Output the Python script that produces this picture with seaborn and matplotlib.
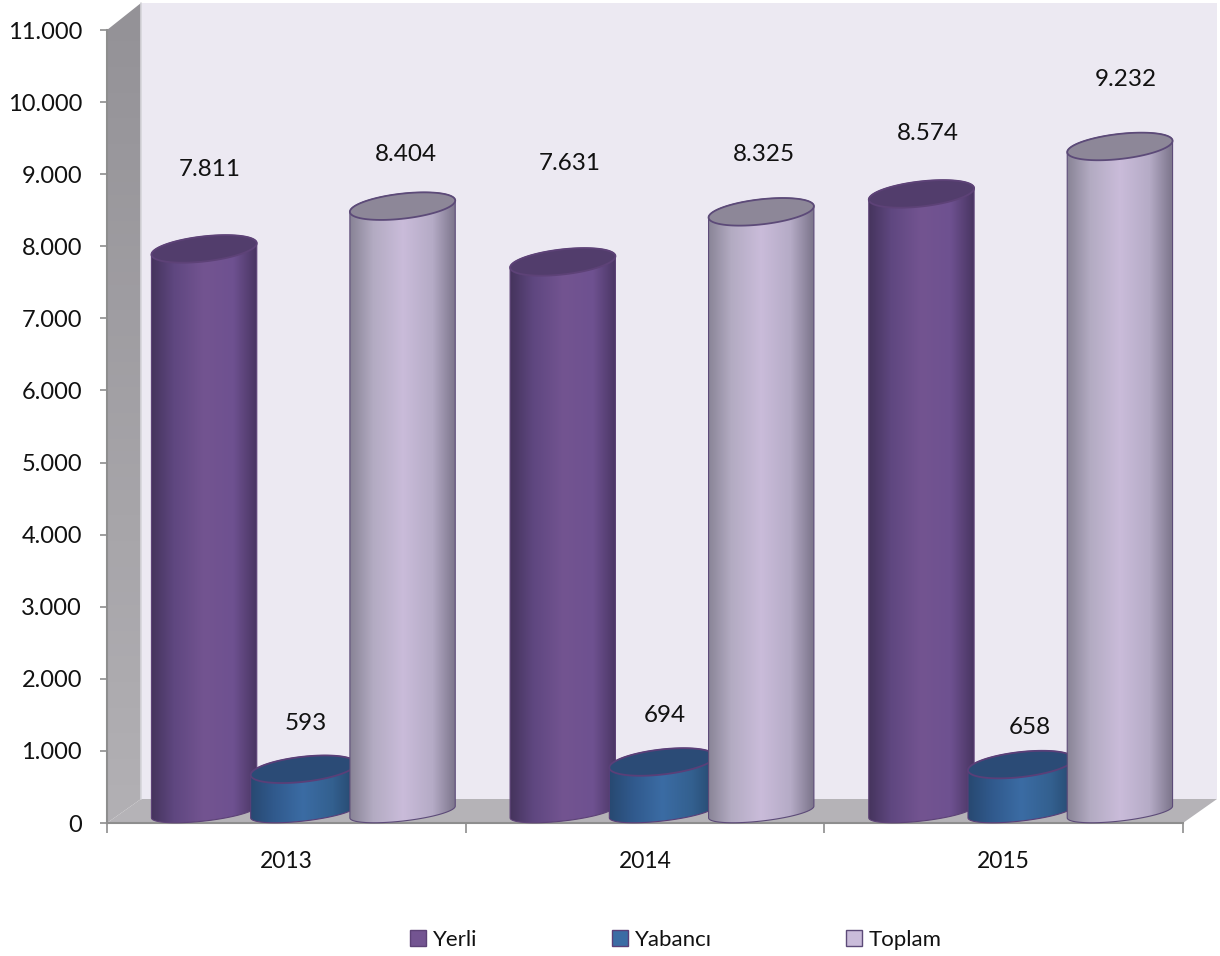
#!/usr/bin/env python
"""
Yerli / Yabanci / Toplam counts per year, drawn as 3D-looking cylinders
"""
import numpy as np
import pandas as pd
import matplotlib
matplotlib.use('Agg')
import matplotlib.pyplot as plt
from matplotlib.colors import LinearSegmentedColormap
from matplotlib.patches import Patch, PathPatch, Polygon
from matplotlib.path import Path
from matplotlib.ticker import FuncFormatter
from matplotlib.transforms import IdentityTransform
import seaborn as sns

years = ['2013', '2014', '2015']
yerli = [7811, 7631, 8574]
yabanci = [593, 694, 658]
toplam = [8404, 8325, 9232]
series_names = ['Yerli', 'Yabancı', 'Toplam']

df = pd.DataFrame({'Yil': years * 3,
                   'Sayi': yerli + yabanci + toplam,
                   'Tur': np.repeat(series_names, 3)})

sns.set_theme(style='white')
plt.rcParams['font.family'] = ['Lato', 'DejaVu Sans']

W, H = 1220, 956
fig = plt.figure(figsize=(W / 100, H / 100), dpi=100, facecolor='white')

# Background axes in pixel coordinates for the walls and the floor
bg = fig.add_axes([0, 0, 1, 1])
bg.set_xlim(0, W)
bg.set_ylim(H, 0)
bg.axis('off')


def vgrad(ax, pts, top, bottom):
    cmap = LinearSegmentedColormap.from_list('w', [top, bottom])
    xs, ys = zip(*pts)
    im = ax.imshow(np.linspace(0, 1, 64)[:, None], cmap=cmap, aspect='auto',
                   extent=(min(xs), max(xs), max(ys), min(ys)))
    poly = Polygon(pts, closed=True, fc='none', ec='none', transform=ax.transData)
    ax.add_patch(poly)
    im.set_clip_path(poly)


bg.add_patch(Polygon([(141, 3), (1217, 3), (1217, 799), (141, 799)], fc='#ECE9F2', ec='none'))
vgrad(bg, [(107, 30), (141, 3), (141, 799), (107, 823)], '#949297', '#B2B0B4')
bg.add_patch(Polygon([(107, 823), (141, 799), (1217, 799), (1183, 823)], fc='#B5B3B7', ec='none'))
bg.plot([141, 141], [3, 799], color='#D6D5DA', lw=1.2)
bg.set_xlim(0, W)
bg.set_ylim(H, 0)

ax = fig.add_axes([107 / W, (H - 823) / H, 1076 / W, 793 / H])
ax.patch.set_alpha(0)

bars = sns.barplot(data=df, x='Yil', y='Sayi', hue='Tur', hue_order=series_names,
                   width=0.83, legend=False, ax=ax)
ax.set_xlim(-0.5, 2.5)
ax.set_ylim(0, 11000)
ax.set_xlabel('')
ax.set_ylabel('')
ax.set_yticks(np.arange(0, 11001, 1000))
ax.yaxis.set_major_formatter(FuncFormatter(lambda v, _: f'{v:,.0f}'.replace(',', '.')))
ax.set_xticks([-0.5, 0.5, 1.5, 2.5], minor=True)

for side in ['top', 'right']:
    ax.spines[side].set_visible(False)
for side in ['left', 'bottom']:
    ax.spines[side].set_color('#8E8E8E')
    ax.spines[side].set_linewidth(1.5)
ax.tick_params(axis='y', which='major', left=True, length=5, width=1.2, color='#8E8E8E',
               pad=13, labelsize=17, labelcolor='#111111')
ax.tick_params(axis='x', which='major', length=0, pad=20, labelsize=16.5, labelcolor='#111111')
ax.tick_params(axis='x', which='minor', bottom=True, length=7, width=1.2, color='#8E8E8E')

# colours: gradient stops across the body, lid, outline
styles = {
    'Yerli': (['#3D2E52', '#5F4780', '#735491', '#6E5190', '#3E2D55'], '#523D6C', '#5D4277'),
    'Yabancı': (['#254469', '#30598C', '#3B6CA4', '#33608F', '#224063'], '#2B4B76', '#5A3F78'),
    'Toplam': (['#7C7889', '#B3ABC2', '#CABCDA', '#B5ABC6', '#6A6479'], '#8D8798', '#5C4A78'),
}

# cylinder shape, in pixels
HALF_W = 53
TOP_H, BASE_H = 12.5, 9
TILT = np.deg2rad(6.5)
SHIFT_X, SHIFT_Y = 17, 11

# hand placed data labels (dx, dy in pixels from the top of each bar)
label_offsets = {
    'Yerli': [(23, 90), (24, 109), (23, 71)],
    'Yabancı': [(19, 57), (20, 57), (26, 48)],
    'Toplam': [(20, 63), (20, 68), (23, 78)],
}


def ellipse(cx, cy, t, half_h):
    x = HALF_W * np.cos(t) * np.cos(TILT) - half_h * np.sin(t) * np.sin(TILT)
    y = HALF_W * np.cos(t) * np.sin(TILT) + half_h * np.sin(t) * np.cos(TILT)
    return np.column_stack([cx + x, cy + y])


def start_angle(half_h):
    return np.arctan2(-half_h * np.sin(TILT), HALF_W * np.cos(TILT))


z = 3
for name, container in zip(series_names, bars.containers):
    stops, lid, edge = styles[name]
    cmap = LinearSegmentedColormap.from_list(name, stops)
    for rect, off in zip(container, label_offsets[name]):
        rect.set_visible(False)
        xc = rect.get_x() + rect.get_width() / 2
        value = rect.get_height()
        bx, by = ax.transData.transform((xc, 0)) + (SHIFT_X, SHIFT_Y)
        tx, ty = ax.transData.transform((xc, value)) + (SHIFT_X, SHIFT_Y)

        tb, tt = start_angle(BASE_H), start_angle(TOP_H)
        low = ellipse(bx, by, np.linspace(tb + np.pi, tb + 2 * np.pi, 60), BASE_H)
        up = ellipse(tx, ty, np.linspace(tt, tt + np.pi, 60), TOP_H)
        body = Path(np.vstack([low, up, low[:1]]), closed=True)
        body_patch = PathPatch(body, fc='none', ec=edge, lw=0.8, clip_on=False,
                               transform=IdentityTransform(), zorder=z + 1)
        ax.add_patch(body_patch)

        inv = ax.transData.inverted()
        (x0, y0), (x1, y1) = inv.transform([(bx - 60, by - 25), (bx + 60, ty + 25)])
        im = ax.imshow(np.linspace(0, 1, 128)[None, :], cmap=cmap, aspect='auto',
                       extent=(x0, x1, y0, y1), zorder=z, interpolation='bilinear')
        im.set_clip_path(body_patch)

        top = Path(ellipse(tx, ty, np.linspace(0, 2 * np.pi, 90), TOP_H), closed=True)
        ax.add_patch(PathPatch(top, fc=lid, ec=edge, lw=1.3,
                               transform=IdentityTransform(), zorder=z + 2))

        ax.annotate(f'{value:,.0f}'.replace(',', '.'), xy=(xc, value),
                    xytext=off, textcoords='offset pixels',
                    ha='center', va='center', fontsize=17.5, color='#111111', zorder=50)
        z += 3

ax.set_xlim(-0.5, 2.5)
ax.set_ylim(0, 11000)

handles = [Patch(fc=styles[n][0][2], ec=styles[n][2], lw=1.0) for n in series_names]
fig.legend(handles, series_names, loc='center', bbox_to_anchor=(676 / W, 1 - 940 / H),
           ncols=3, frameon=False, fontsize=16, handlelength=0.72, handleheight=0.72,
           handletextpad=0.3, columnspacing=6.04, borderpad=0, labelcolor='#111111')

fig.savefig('out.png', dpi=100)
